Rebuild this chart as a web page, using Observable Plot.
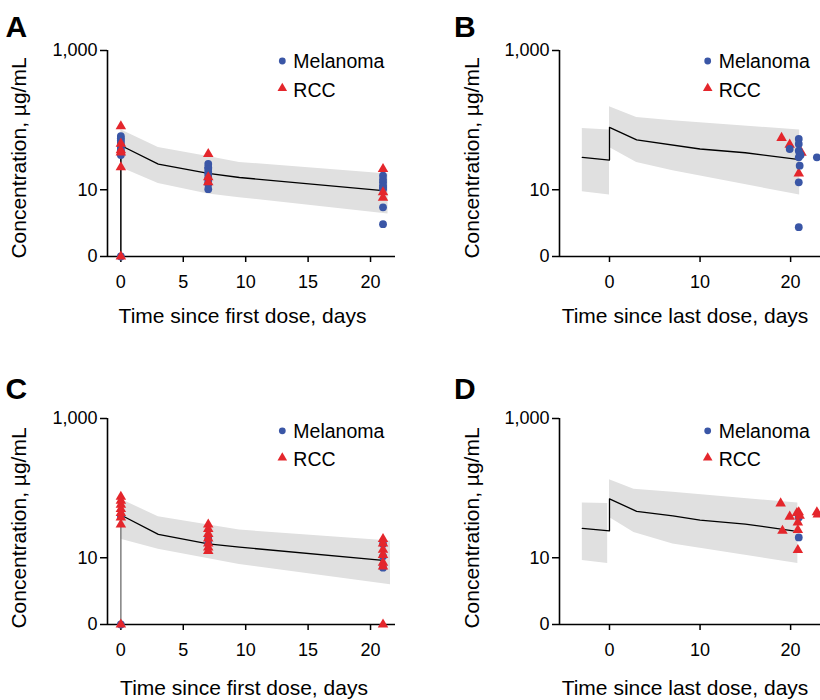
<!DOCTYPE html>
<html><head><meta charset="utf-8">
<script src="https://cdn.jsdelivr.net/npm/d3@7"></script>
<script src="https://cdn.jsdelivr.net/npm/@observablehq/plot@0.6"></script>
<style>
body{margin:0;background:#fff;}
#root{position:relative;width:820px;height:700px;overflow:hidden;font-family:"Liberation Sans",Arial,Helvetica,sans-serif;}
.panel{position:absolute;}
#overlay{position:absolute;left:0;top:0;pointer-events:none;}
</style></head><body><div id="root"></div><script>
// ---------- data ----------
const ZERO = 1.1; // position used for the "0" value on the log axis
const yTickValues = [0, 10, 1000];
const xTicksFirst = [0, 5, 10, 15, 20];
const xTicksLast = [0, 10, 20];
const seriesNames = ["Melanoma", "RCC"];
const panelLetters = ["A", "B", "C", "D"];
const xTitles = ["Time since first dose, days", "Time since last dose, days", "Time since first dose, days", "Time since last dose, days"];
const yTitle = "Concentration, \u00b5g/mL";

// Panel A (first dose, population 1)
const aLineT = [0, 3, 7, 9.5, 21];
const aLineC = [43.2, 23.4, 17.2, 15, 9.7];
const aBandT = [0, 3, 7, 9.5, 21.4];
const aBandLo = [20.9, 12.3, 8.7, 7.7, 4.5];
const aBandHi = [73, 40.6, 30, 24.7, 16.8];
const aMelT = [0, 0, 0, 0, 0, 0, 0, 0, 0, 0, 7, 7, 7, 7, 7, 7, 7, 7, 7, 21, 21, 21, 21, 21, 21, 21, 21];
const aMelC = [0, 59, 55, 51, 47, 43, 40, 37, 34, 31.5, 23.5, 21, 20, 18, 16.8, 15, 13.4, 12, 10.2, 15.9, 14, 12.8, 11.5, 10.8, 10.2, 5.6, 3.2];
const aRccT = [0, 0, 0, 0, 0, 0, 7, 7, 7, 21, 21, 21];
const aRccC = [0, 81.5, 46, 37, 34.4, 21, 32.6, 15.1, 12.8, 19.9, 9.2, 7.7];

// Panel B (last dose, population 1)
const bLineT = [-3, 0, 0, 3, 10, 15, 21];
const bLineC = [29.2, 26.7, 78.7, 51.9, 38.5, 34, 27];
const bBandSeg = [0, 0, 1, 1, 1, 1];
const bBandT = [-3, 0, 0, 3, 7, 21];
const bBandLo = [9.4, 8.4, 40.6, 24.7, 18.7, 8.4];
const bBandHi = [76, 72, 156, 109.5, 98, 72];
const bMelT = [19.9, 20.9, 20.9, 20.9, 21.0, 21.1, 20.9, 21.0, 20.9, 20.9, 22.9];
const bMelC = [38.5, 53.6, 45.5, 36.4, 33, 31.5, 29.2, 22.2, 12.8, 2.9, 29.2];
const bRccT = [19.0, 19.9, 20.9, 21.2];
const bRccC = [55.5, 44.4, 17.2, 34];

// Panel C (first dose, population 2)
const cLineT = [0, 3, 7, 9.5, 21];
const cLineC = [41.1, 21.7, 15.8, 14.2, 9.2];
const cBandT = [0, 3, 9.5, 21.6];
const cBandLo = [18.4, 13.2, 8, 4.1];
const cBandHi = [69, 38.9, 25, 17.4];
const cMelT = [0, 0, 7, 7, 21, 21, 21];
const cMelC = [0, 40, 18.6, 16, 15.8, 10.5, 7.2];
const cRccT = [0, 0, 0, 0, 0, 0, 0, 0, 7, 7, 7, 7, 7, 7, 7, 21, 21, 21, 21, 21, 21, 21];
const cRccC = [0, 75, 66, 58, 50, 44, 38, 30, 30, 26, 22, 19, 16, 14, 12.5, 0, 18.6, 16, 13, 11, 8.5, 7.5];

// Panel D (last dose, population 2)
const dLineT = [-3, 0, 0, 3, 7, 10, 15, 20.3];
const dLineC = [26.4, 24.4, 70, 46.4, 40, 34.8, 30.5, 24.4];
const dBandSeg = [0, 0, 1, 1, 1, 1];
const dBandT = [-3, -0.2, 0, 2.7, 7, 20.8];
const dBandLo = [9.1, 8.3, 38, 23, 15.7, 8.3];
const dBandHi = [61, 60, 132, 96, 87, 61];
const dMelT = [20.9, 20.9];
const dMelC = [19.6, 38];
const dRccT = [18.9, 19.9, 20.9, 21.0, 20.8, 20.8, 19.1, 20.8, 22.9, 23.0, 20.7];
const dRccC = [60.4, 38.9, 44.9, 40, 32.2, 25, 24.4, 12.9, 44.9, 42, 44];

// ---------- helpers ----------
const BLUE = "#3a56a6", RED = "#e4262c", BAND = "#e0e0e0";
const FONT = "'Liberation Sans', Arial, Helvetica, sans-serif";
const pts = (T, C) => T.map((t, i) => ({t, c: C[i]}));
const band = (T, Lo, Hi, Seg) => T.map((t, i) => ({t, lo: Lo[i], hi: Hi[i], seg: Seg ? Seg[i] : 0}));
const yv = d => d.c === 0 ? ZERO : d.c;
const fmt = d3.format(",");

function panel(o) {
  const marks = [
    Plot.areaY(o.band, {x: "t", y1: "lo", y2: "hi", z: "seg", fill: BAND}),
    Plot.line(o.line, {x: "t", y: "c", stroke: "#000", strokeWidth: 1.3}),
  ];
  if (o.dose) marks.push(Plot.ruleX([o.line[0]], {x: "t", y1: ZERO, y2: "c", stroke: o.doseColor, strokeWidth: 1.5}));
  marks.push(
    Plot.ruleX([o.xDomain[0]], {stroke: "#000", strokeWidth: 1.6}),
    Plot.ruleY([ZERO], {stroke: "#000", strokeWidth: 1.6}),
    Plot.axisX({ticks: o.xTicks, tickSize: 6, tickPadding: 13, label: null, fontSize: 18, strokeWidth: 1.5, tickFormat: d => String(d)}),
    Plot.axisY({ticks: yTickValues.map(v => v === 0 ? ZERO : v), tickSize: 7, tickPadding: 3, label: null, fontSize: 18, strokeWidth: 1.5,
      tickFormat: d => d === ZERO ? "0" : fmt(d)})
  );
  const mel = Plot.dot(o.mel, {x: "t", y: yv, r: 3.9, fill: BLUE, symbol: "circle"});
  const rcc = Plot.dot(o.rcc, {x: "t", y: yv, r: 3.9, fill: RED, symbol: "triangle"});
  if (o.blueOnTop) marks.push(rcc, mel); else marks.push(mel, rcc);
  const svg = Plot.plot({
    width: o.width, height: 340,
    marginLeft: o.mL, marginRight: o.mR, marginTop: 50, marginBottom: 84,
    x: {domain: o.xDomain},
    y: {type: "log", domain: [ZERO, 1000]},
    style: {fontFamily: FONT, fontSize: "18px", color: "#000", background: "transparent", overflow: "visible"},
    marks
  });
  svg.classList.add("panel");
  svg.style.left = o.left + "px";
  svg.style.top = o.top + "px";
  return svg;
}

const root = document.getElementById("root");
const firstDom = [-1.07, 22], lastDom = [-5.52, 23.3];
root.appendChild(panel({left: 0, top: 0, width: 410, mL: 107, mR: 15, xDomain: firstDom, xTicks: xTicksFirst,
  band: band(aBandT, aBandLo, aBandHi), line: pts(aLineT, aLineC), dose: true, doseColor: "#000",
  mel: pts(aMelT, aMelC), rcc: pts(aRccT, aRccC)}));
root.appendChild(panel({left: 410, top: 0, width: 410, mL: 149, mR: 0, xDomain: lastDom, xTicks: xTicksLast,
  band: band(bBandT, bBandLo, bBandHi, bBandSeg), line: pts(bLineT, bLineC), dose: false,
  mel: pts(bMelT, bMelC), rcc: pts(bRccT, bRccC), blueOnTop: true}));
root.appendChild(panel({left: 0, top: 368, width: 410, mL: 107, mR: 15, xDomain: firstDom, xTicks: xTicksFirst,
  band: band(cBandT, cBandLo, cBandHi), line: pts(cLineT, cLineC), dose: true, doseColor: "#808080",
  mel: pts(cMelT, cMelC), rcc: pts(cRccT, cRccC)}));
root.appendChild(panel({left: 410, top: 368, width: 410, mL: 149, mR: 0, xDomain: lastDom, xTicks: xTicksLast,
  band: band(dBandT, dBandLo, dBandHi, dBandSeg), line: pts(dLineT, dLineC), dose: false,
  mel: pts(dMelT, dMelC), rcc: pts(dRccT, dRccC)}));

// ---------- overlay text: panel letters, axis titles, legends ----------
const ov = d3.select(root).append("svg").attr("id", "overlay").attr("width", 820).attr("height", 700)
  .style("font-family", FONT);
const cells = [{lx: 5.5, tx: 242.5, yl: 25.5, legX: 282.3}, {lx: 454, tx: 685, yl: 478.5, legX: 707.7},
               {lx: 5.5, tx: 244, yl: 25.5, legX: 282.3}, {lx: 454, tx: 685, yl: 478.5, legX: 707.7}];
cells.forEach((c, i) => {
  const base = i < 2 ? 0 : 370;
  ov.append("text").attr("x", c.lx).attr("y", base + (i < 2 ? 36.7 : 29)).attr("font-size", 30).attr("font-weight", "bold").text(panelLetters[i]);
  ov.append("text").attr("x", c.tx).attr("y", i < 2 ? 323.3 : 695).attr("text-anchor", "middle").attr("font-size", 21).text(xTitles[i]);
  const cy = i < 2 ? 158 : 528;
  ov.append("text").attr("transform", `translate(${c.yl},${cy}) rotate(-90)`).attr("text-anchor", "middle").attr("font-size", 21).text(yTitle);
  const ly0 = i < 2 ? 61 : 430.8, ly1 = i < 2 ? 88.3 : 457.7;
  ov.append("circle").attr("cx", c.legX).attr("cy", ly0).attr("r", 3.4).attr("fill", BLUE);
  ov.append("path").attr("transform", `translate(${c.legX},${ly1})`).attr("d", d3.symbol(d3.symbolTriangle, 40)()).attr("fill", RED);
  ov.append("text").attr("x", c.legX + 11).attr("y", ly0 + 7.3).attr("font-size", 19.5).text(seriesNames[0]);
  ov.append("text").attr("x", c.legX + 11).attr("y", ly1 + 8.3).attr("font-size", 19.5).text(seriesNames[1]);
});
</script></body></html>
